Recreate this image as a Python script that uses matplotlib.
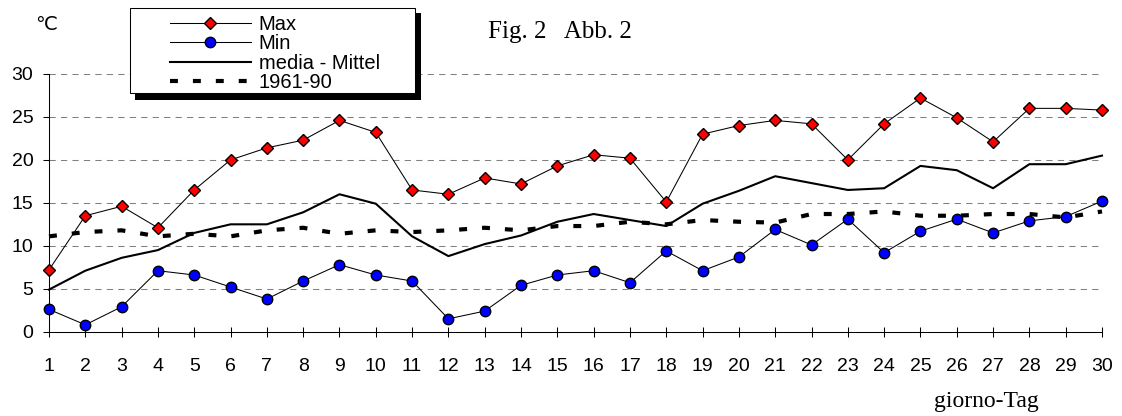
import matplotlib.pyplot as plt
from matplotlib.patches import Rectangle
import numpy as np

days = np.arange(1, 31)
t_max = [7.2, 13.5, 14.6, 12.1, 16.5, 20.0, 21.4, 22.3, 24.6, 23.2,
         16.5, 16.0, 17.9, 17.2, 19.3, 20.6, 20.2, 15.1, 23.0, 24.0,
         24.6, 24.2, 20.0, 24.2, 27.2, 24.9, 22.1, 26.0, 26.0, 25.8]
t_min = [2.6, 0.8, 2.9, 7.1, 6.6, 5.2, 3.8, 5.9, 7.8, 6.6,
         5.9, 1.5, 2.4, 5.4, 6.6, 7.1, 5.7, 9.4, 7.1, 8.7,
         11.9, 10.1, 13.1, 9.2, 11.7, 13.1, 11.5, 12.9, 13.4, 15.2]
t_mean = [4.9, 7.1, 8.6, 9.5, 11.5, 12.5, 12.5, 13.9, 16.0, 14.9,
          11.1, 8.8, 10.2, 11.2, 12.8, 13.7, 13.0, 12.3, 14.9, 16.4,
          18.1, 17.3, 16.5, 16.7, 19.3, 18.8, 16.7, 19.5, 19.5, 20.5]
t_norm = [11.1, 11.6, 11.8, 11.1, 11.4, 11.1, 11.8, 12.1, 11.4, 11.8,
          11.6, 11.8, 12.1, 11.8, 12.3, 12.3, 12.8, 12.5, 13.0, 12.8,
          12.7, 13.7, 13.7, 14.0, 13.5, 13.5, 13.7, 13.7, 13.3, 14.0]
labels = ['Max', 'Min', 'media - Mittel', '1961-90']

W, H = 1122, 416
fig = plt.figure(figsize=(W / 100, H / 100), dpi=100)
ax = fig.add_axes([49 / W, (H - 331.7) / H, (1102 - 49) / W, (331.7 - 74) / H])

sans = 'Liberation Sans'
serif = 'Liberation Serif'

# horizontal dashed grid
for y in range(5, 31, 5):
    ax.axhline(y, color='#808080', lw=0.75, ls=(0, (6, 5)), zorder=0)

l1, = ax.plot(days, t_max, color='black', lw=0.75, marker='D', ms=6,
              mfc='red', mec='black', mew=1, clip_on=False, zorder=3)
l2, = ax.plot(days, t_min, color='black', lw=0.75, marker='o', ms=7.5,
              mfc='blue', mec='black', mew=1, clip_on=False, zorder=3)
l3, = ax.plot(days, t_mean, color='black', lw=1.5, clip_on=False, zorder=4)
l4, = ax.plot(days, t_norm, color='black', lw=3, dashes=(1.9, 3.6),
              dash_capstyle='butt', clip_on=False, zorder=5)

ax.set_xlim(1, 30)
ax.set_ylim(0, 30)
ax.set_xticks(days)
ax.set_yticks(range(0, 31, 5))
ax.spines['top'].set_visible(False)
ax.spines['right'].set_visible(False)
for s in ['left', 'bottom']:
    ax.spines[s].set_linewidth(0.75)
ax.tick_params(axis='x', direction='inout', length=7.2, width=0.75, pad=15,
               labelsize=14)
ax.tick_params(axis='y', direction='out', length=4.3, width=0.75, pad=7,
               labelsize=14)
for lab in ax.get_xticklabels() + ax.get_yticklabels():
    lab.set_fontfamily(sans)

# legend box with black shadow
fig.patches.append(Rectangle((135 / W, (H - 100) / H), 286 / W, 87 / H,
                             transform=fig.transFigure, facecolor='black',
                             edgecolor='none', zorder=10))
fig.patches.append(Rectangle((130 / W, (H - 93) / H), 285 / W, 85 / H,
                             transform=fig.transFigure, facecolor='white',
                             edgecolor='black', lw=0.75, zorder=11))
leg = fig.legend([l1, l2, l3, l4], labels, loc='upper left',
                 bbox_to_anchor=(170 / W, 1 - 15 / H), frameon=False,
                 borderpad=0, borderaxespad=0, handlelength=4.0,
                 handletextpad=0.4, labelspacing=0.02, numpoints=1,
                 prop={'family': sans, 'size': 14.5})
leg.set_zorder(12)

fig.text(46 / W, 1 - 26 / H, '℃', family=[sans, 'DejaVu Sans'], fontsize=14,
         ha='center', va='center')
fig.text(488 / W, 1 - 32 / H, 'Fig. 2   Abb. 2', family=serif, fontsize=18,
         ha='left', va='center')
fig.text(986 / W, 1 - 402 / H, 'giorno-Tag', family=serif, fontsize=17,
         ha='center', va='center')

fig.savefig('out.png', dpi=100)
